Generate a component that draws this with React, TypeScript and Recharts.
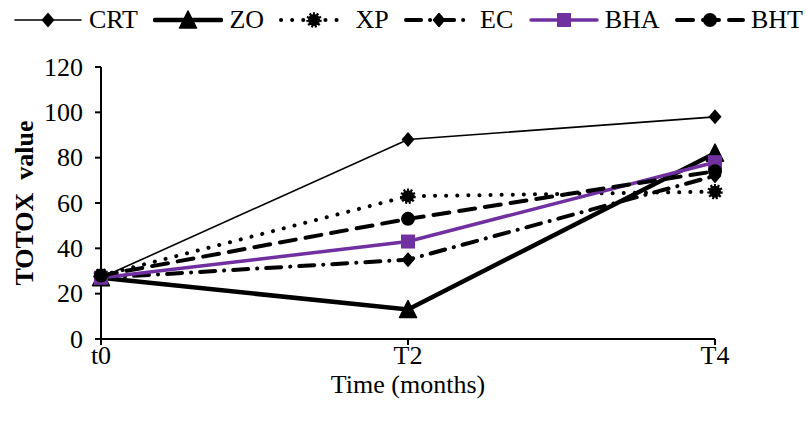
import React from 'react'
import { LineChart, Line, XAxis, YAxis } from 'recharts'

// ── Data ────────────────────────────────────────────────────────────────────
const TIMES = ['t0', 'T2', 'T4']
const CRT = [27, 88, 98]
const ZO = [27, 13, 82]
const XP = [28, 63, 65]
const EC = [27, 35, 72]
const BHA = [27, 43, 78]
const BHT = [28, 53, 74]
const Y_TICKS = [0, 20, 40, 60, 80, 100, 120]

const FONT = 'Liberation Serif, Times New Roman, serif'
const PURPLE = '#7030A0'

type MarkerKind = 'diamond' | 'triangle' | 'dotcircle' | 'smalldiamond' | 'square' | 'circle'

const SERIES: Array<{
  key: string; values: number[]; color: string; width: number
  dash?: string; cap?: 'round' | 'butt'; marker: MarkerKind
}> = [
  { key: 'CRT', values: CRT, color: '#000', width: 1.6, marker: 'diamond' },
  { key: 'ZO',  values: ZO,  color: '#000', width: 4.5, marker: 'triangle' },
  { key: 'XP',  values: XP,  color: '#000', width: 4, dash: '0.1 11', cap: 'round', marker: 'dotcircle' },
  { key: 'EC',  values: EC,  color: '#000', width: 4, dash: '15 9 0.1 9', cap: 'round', marker: 'smalldiamond' },
  { key: 'BHA', values: BHA, color: PURPLE, width: 3.5, marker: 'square' },
  { key: 'BHT', values: BHT, color: '#000', width: 4, dash: '16 10', cap: 'round', marker: 'circle' },
]

const chartData = TIMES.map((t, i) => {
  const row: Record<string, number | string> = { time: t }
  SERIES.forEach(s => { row[s.key] = s.values[i] })
  return row
})

// ── Marker shapes ───────────────────────────────────────────────────────────
function Marker({ kind, cx, cy, color }: { kind: MarkerKind; cx: number; cy: number; color: string }) {
  switch (kind) {
    case 'diamond':
      return <path d={`M${cx},${cy - 7.5} L${cx + 6.5},${cy} L${cx},${cy + 7.5} L${cx - 6.5},${cy} Z`} fill={color} />
    case 'triangle':
      return <path d={`M${cx},${cy - 9} L${cx + 8.5},${cy + 8} L${cx - 8.5},${cy + 8} Z`} fill={color} stroke={color} strokeLinejoin="round" strokeWidth={1.5} />
    case 'dotcircle':
      return (
        <g>
          <circle cx={cx} cy={cy} r={6} fill={color} />
          <circle cx={cx} cy={cy} r={6.5} fill="none" stroke={color} strokeWidth={2.5} strokeDasharray="2 1.6" />
        </g>
      )
    case 'smalldiamond':
      return <path d={`M${cx},${cy - 6.5} L${cx + 5.5},${cy} L${cx},${cy + 6.5} L${cx - 5.5},${cy} Z`} fill={color} stroke={color} strokeWidth={1.5} strokeLinejoin="round" />
    case 'square':
      return <rect x={cx - 7} y={cy - 7} width={14} height={14} fill={color} />
    case 'circle':
      return <circle cx={cx} cy={cy} r={7} fill={color} />
  }
}

// ── Legend ──────────────────────────────────────────────────────────────────
function LegendRow() {
  return (
    <div style={{
      position: 'absolute', left: 13, top: 5, width: 790, height: 30,
      display: 'flex', justifyContent: 'space-between', alignItems: 'center',
      fontFamily: FONT, fontSize: 26, color: '#000', lineHeight: '30px',
    }}>
      {SERIES.map(s => (
        <div key={s.key} style={{ display: 'flex', alignItems: 'center' }}>
          <svg width={70} height={22} style={{ display: 'block' }}>
            <line x1={2} y1={11} x2={68} y2={11} stroke={s.color} strokeWidth={s.width}
              strokeDasharray={s.dash} strokeLinecap={s.cap ?? 'round'} />
            <Marker kind={s.marker} cx={35} cy={11} color={s.color} />
          </svg>
          <span style={{ marginLeft: 6, fontFamily: FONT }}>{s.key}</span>
        </div>
      ))}
    </div>
  )
}

// ── Axis ticks / labels ─────────────────────────────────────────────────────
function YTick({ x, y, payload }: any) {
  return (
    <text x={x} y={y} textAnchor="end" dominantBaseline="central"
      fontFamily={FONT} fontSize={26} fill="#000">
      {payload.value}
    </text>
  )
}

function XTick({ x, y, payload }: any) {
  return (
    <text x={x} y={y} dy={19} textAnchor="middle"
      fontFamily={FONT} fontSize={26} fill="#000">
      {payload.value}
    </text>
  )
}

function YLabel({ viewBox }: { viewBox?: { x: number; y: number; width: number; height: number } }) {
  if (!viewBox) return null
  const cy = viewBox.y + viewBox.height / 2
  return (
    <text x={24} y={cy} transform={`rotate(-90, 24, ${cy})`} textAnchor="middle"
      dominantBaseline="central" fontFamily={FONT} fontSize={26} fontWeight={700}
      fill="#000" style={{ whiteSpace: 'pre' }}>
      {'TOTOX  value'}
    </text>
  )
}

function XLabel({ viewBox }: { viewBox?: { x: number; y: number; width: number; height: number } }) {
  if (!viewBox) return null
  return (
    <text x={viewBox.x + viewBox.width / 2} y={384} textAnchor="middle"
      dominantBaseline="central" fontFamily={FONT} fontSize={26} fill="#000">
      Time (months)
    </text>
  )
}

export default function App() {
  return (
    <div style={{ position: 'absolute', left: 0, top: 0, width: 806, height: 423, background: '#fff', fontFamily: FONT }}>
      <LegendRow />
      <LineChart
        width={806}
        height={423}
        data={chartData}
        margin={{ top: 67, right: 91, left: 41, bottom: 0 }}
        style={{ fontFamily: FONT }}
      >
        <XAxis
          dataKey="time"
          height={84}
          tick={<XTick />}
          tickSize={6}
          tickMargin={0}
          axisLine={{ stroke: '#000', strokeWidth: 2 }}
          tickLine={{ stroke: '#000', strokeWidth: 2 }}
          label={<XLabel />}
        />
        <YAxis
          width={60}
          domain={[0, 120]}
          ticks={Y_TICKS}
          interval={0}
          tick={<YTick />}
          tickSize={6}
          tickMargin={12}
          axisLine={{ stroke: '#000', strokeWidth: 2 }}
          tickLine={{ stroke: '#000', strokeWidth: 2 }}
          label={<YLabel />}
        />
        {SERIES.map(s => (
          <Line
            key={s.key}
            dataKey={s.key}
            stroke={s.color}
            strokeWidth={s.width}
            strokeDasharray={s.dash}
            strokeLinecap={s.cap ?? 'butt'}
            isAnimationActive={false}
            dot={(p: any) => <Marker key={`${s.key}-${p.index}`} kind={s.marker} cx={p.cx} cy={p.cy} color={s.color} />}
            activeDot={false}
          />
        ))}
      </LineChart>
    </div>
  )
}
